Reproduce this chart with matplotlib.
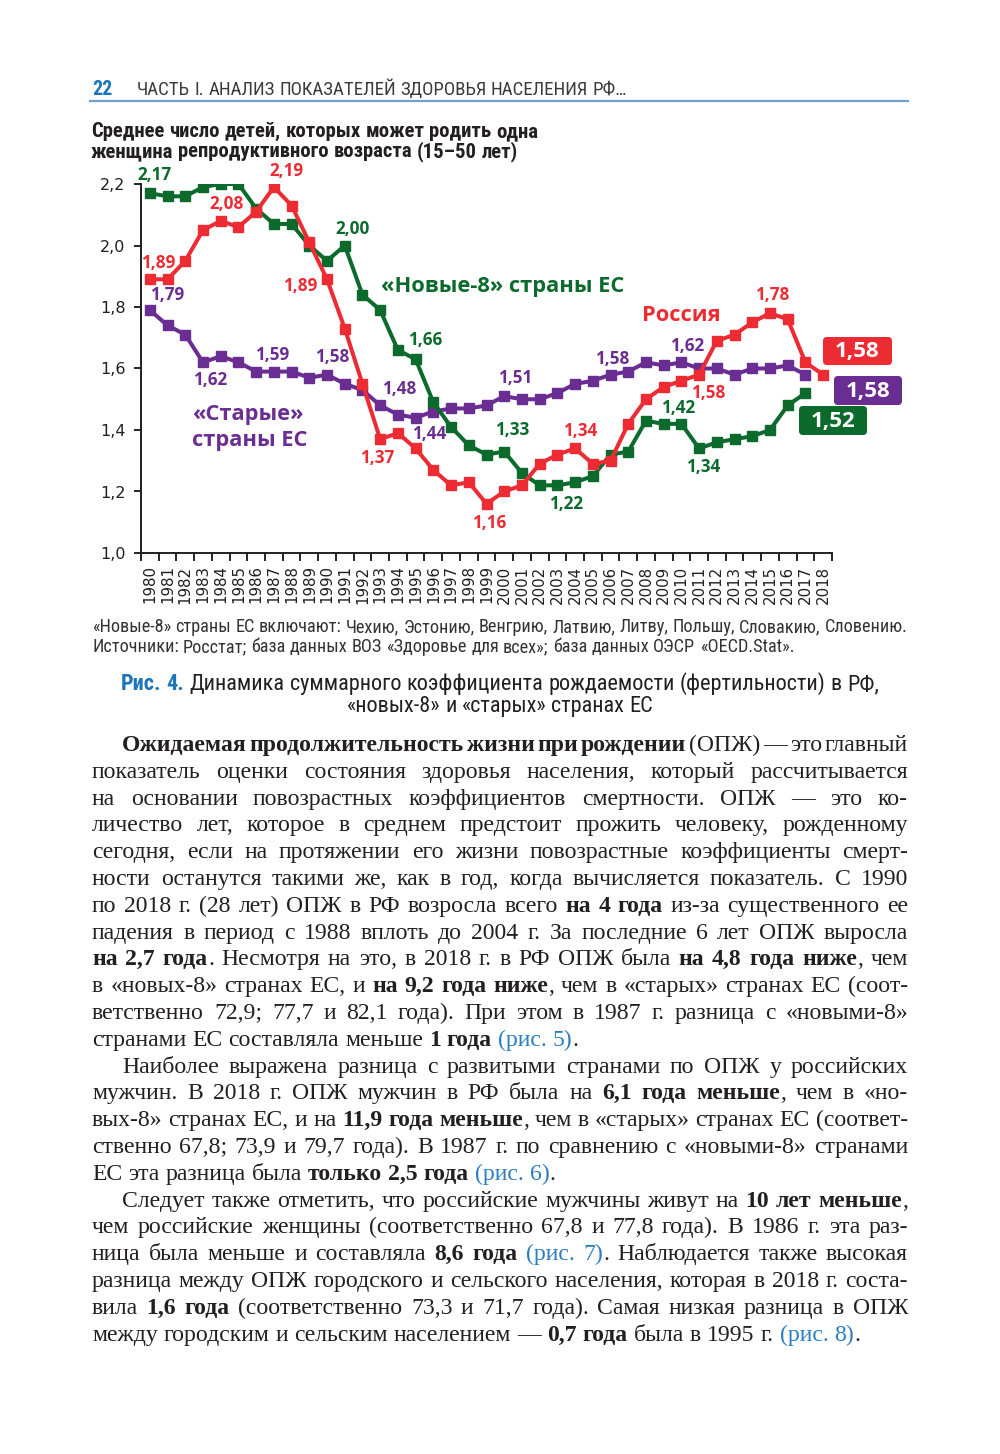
"""Page 22: total fertility rate in Russia, the "new-8" and the "old" EU countries, 1980-2018.

Recreates the book page (chart, notes, caption and body text) as out.png.
"""

import re

import numpy as np
import matplotlib

matplotlib.use("Agg")
import matplotlib.pyplot as plt
from matplotlib import font_manager
from matplotlib.font_manager import FontProperties
from matplotlib.patches import FancyBboxPatch
from matplotlib.ticker import FuncFormatter

# --- data -------------------------------------------------------------------
years = list(range(1980, 2019))
russia = [1.89, 1.89, 1.95, 2.05, 2.08, 2.06, 2.11, 2.19, 2.13, 2.01,
          1.89, 1.73, 1.55, 1.37, 1.39, 1.34, 1.27, 1.22, 1.23, 1.16,
          1.20, 1.22, 1.29, 1.32, 1.34, 1.29, 1.30, 1.42, 1.50, 1.54,
          1.56, 1.58, 1.69, 1.71, 1.75, 1.78, 1.76, 1.62, 1.58]
new8 = [2.17, 2.16, 2.16, 2.19, 2.20, 2.20, 2.12, 2.07, 2.07, 2.00,
        1.95, 2.00, 1.84, 1.79, 1.66, 1.63, 1.49, 1.41, 1.35, 1.32,
        1.33, 1.26, 1.22, 1.22, 1.23, 1.25, 1.32, 1.33, 1.43, 1.42,
        1.42, 1.34, 1.36, 1.37, 1.38, 1.40, 1.48, 1.52, np.nan]
old_eu = [1.79, 1.74, 1.71, 1.62, 1.64, 1.62, 1.59, 1.59, 1.59, 1.57,
          1.58, 1.55, 1.53, 1.48, 1.45, 1.44, 1.46, 1.47, 1.47, 1.48,
          1.51, 1.50, 1.50, 1.52, 1.55, 1.56, 1.58, 1.59, 1.62, 1.61,
          1.62, 1.60, 1.60, 1.58, 1.60, 1.60, 1.61, 1.58, np.nan]

russia_label_years = [1980, 1984, 1987, 1990, 1993, 1999, 2004, 2011, 2015]
new8_label_years = [1980, 1991, 1994, 2000, 2003, 2009, 2011]
old_label_years = [1980, 1983, 1987, 1990, 1993, 1995, 2000, 2006, 2010]
y_ticks = [1.0, 1.2, 1.4, 1.6, 1.8, 2.0, 2.2]

# label offsets from the point, in pixels (right, down)
LABEL_OFFSETS = {
    "russia": {1980: (8, -16), 1984: (6, -17), 1987: (13, -16), 1990: (-27, 7),
               1993: (-3, 19), 1999: (3, 19), 2004: (5, -17), 2011: (9, 18),
               2015: (2, -18)},
    "new8": {1980: (5, -18), 1991: (8, -17), 1994: (27, -10), 2000: (8, -22),
             2003: (9, 19), 2009: (14, -16), 2011: (4, 19)},
    "old": {1980: (17, -15), 1983: (7, 18), 1987: (-2, -17), 1990: (5, -18),
            1993: (19, -16), 1995: (14, 16), 2000: (11, -18), 2006: (2, -16),
            2010: (6, -16)},
}

# --- texts ------------------------------------------------------------------
PAGE_NUM = "22"
RUNNING_HEAD = "ЧАСТЬ I. АНАЛИЗ ПОКАЗАТЕЛЕЙ ЗДОРОВЬЯ НАСЕЛЕНИЯ РФ…"
TITLE_LINES = ["Среднее число детей, которых может родить одна",
               "женщина репродуктивного возраста (15–50 лет)"]
NOTE_LINES = ["«Новые-8» страны ЕС включают: Чехию, Эстонию, Венгрию, Латвию, Литву, Польшу, Словакию, Словению.",
              "Источники: Росстат; база данных ВОЗ «Здоровье для всех»; база данных ОЭСР «OECD.Stat»."]
CAPTION_TAG = "Рис. 4."
CAPTION_LINES = ["Динамика суммарного коэффициента рождаемости (фертильности) в РФ,",
                 "«новых-8» и «старых» странах ЕС"]
BODY = [
    ["**Ожидаемая продолжительность жизни при рождении** (ОПЖ) — это главный",
     "показатель оценки состояния здоровья населения, который рассчитывается",
     "на основании повозрастных коэффициентов смертности. ОПЖ — это ко-",
     "личество лет, которое в среднем предстоит прожить человеку, рожденному",
     "сегодня, если на протяжении его жизни повозрастные коэффициенты смерт-",
     "ности останутся такими же, как в год, когда вычисляется показатель. С 1990",
     "по 2018 г. (28 лет) ОПЖ в РФ возросла всего **на 4 года** из-за существенного ее",
     "падения в период с 1988 вплоть до 2004 г. За последние 6 лет ОПЖ выросла",
     "**на 2,7 года**. Несмотря на это, в 2018 г. в РФ ОПЖ была **на 4,8 года ниже**, чем",
     "в «новых-8» странах ЕС, и **на 9,2 года ниже**, чем в «старых» странах ЕС (соот-",
     "ветственно 72,9; 77,7 и 82,1 года). При этом в 1987 г. разница с «новыми-8»",
     "странами ЕС составляла меньше **1 года** [[(рис. 5)]]."],
    ["Наиболее выражена разница с развитыми странами по ОПЖ у российских",
     "мужчин. В 2018 г. ОПЖ мужчин в РФ была на **6,1 года меньше**, чем в «но-",
     "вых-8» странах ЕС, и на **11,9 года меньше**, чем в «старых» странах ЕС (соответ-",
     "ственно 67,8; 73,9 и 79,7 года). В 1987 г. по сравнению с «новыми-8» странами",
     "ЕС эта разница была **только 2,5 года** [[(рис. 6)]]."],
    ["Следует также отметить, что российские мужчины живут на **10 лет меньше**,",
     "чем российские женщины (соответственно 67,8 и 77,8 года). В 1986 г. эта раз-",
     "ница была меньше и составляла **8,6 года** [[(рис. 7)]]. Наблюдается также высокая",
     "разница между ОПЖ городского и сельского населения, которая в 2018 г. соста-",
     "вила **1,6 года** (соответственно 73,3 и 71,7 года). Самая низкая разница в ОПЖ",
     "между городским и сельским населением — **0,7 года** была в 1995 г. [[(рис. 8)]]."],
]

RED = "#EC2B33"
GREEN = "#0C6A2D"
PURPLE = "#6A2D91"
BLUE = "#1C74BB"
RULE = "#6DA2CF"
INK = "#231F20"


def first_font(*names):
    installed = {f.name for f in font_manager.fontManager.ttflist}
    for name in names:
        if name in installed:
            return name
    return "DejaVu Sans"


NARROW = first_font("Liberation Sans Narrow", "Roboto Condensed", "Open Sans")
SANS = first_font("Open Sans", "Noto Sans", "DejaVu Sans")
SERIF = first_font("Liberation Serif", "DejaVu Serif")


def text_width(r, s, family, weight, size):
    prop = FontProperties(family=family, weight=weight, size=size)
    return r.get_text_width_height_descent(s, prop, ismath=False)[0]


def split_words(line):
    """'**bold** plain [[link]]' -> list of words, each a list of (text, style)."""
    segs = []
    for part in re.split(r"(\*\*.+?\*\*|\[\[.+?\]\])", line):
        if not part:
            continue
        if part.startswith("**"):
            segs.append((part[2:-2], "b"))
        elif part.startswith("[["):
            segs.append((part[2:-2], "l"))
        else:
            segs.append((part, "r"))
    words = [[]]
    for text, st in segs:
        for i, chunk in enumerate(text.split(" ")):
            if i > 0:
                words.append([])
            if chunk:
                words[-1].append((chunk, st))
    return [w for w in words if w]


def word_widths(r, words, styles, size):
    return [sum(text_width(r, t, styles[s][0], styles[s][1], size) for t, s in w)
            for w in words]


def space_width(r, family, size):
    return text_width(r, "n n", family, "normal", size) - text_width(r, "nn", family, "normal", size)


def place_words(page, r, words, x, y, size, styles, width=None):
    widths = word_widths(r, words, styles, size)
    gap = space_width(r, styles["r"][0], size)
    if width is not None and len(words) > 1:
        gap = (width - sum(widths)) / (len(words) - 1)
    for w, ww in zip(words, widths):
        cx = x
        for t, s in w:
            fam, wt, col = styles[s]
            page.text(cx, y, t, family=fam, weight=wt, color=col, fontsize=size,
                      ha="left", va="baseline")
            cx += text_width(r, t, fam, wt, size)
        x += ww + gap
    return sum(widths) + gap * (len(words) - 1)


def fit_size(r, line, styles, width):
    words = split_words(line)
    natural = sum(word_widths(r, words, styles, 10)) + space_width(r, styles["r"][0], 10) * (len(words) - 1)
    return 10 * width / natural


def draw_chart(fig):
    ax = fig.add_axes([141 / 1000, (1454 - 553) / 1454, 691 / 1000, 369 / 1454])
    ax.set_facecolor("none")
    series = [("old", old_eu, PURPLE, old_label_years),
              ("new8", new8, GREEN, new8_label_years),
              ("russia", russia, RED, russia_label_years)]
    for z, (key, values, color, label_years) in enumerate(series):
        ax.plot(years, values, color=color, lw=2.9, marker="s", ms=7.4,
                solid_joinstyle="miter", zorder=3 + z)
        for yr in label_years:
            v = values[years.index(yr)]
            dx, dy = LABEL_OFFSETS[key][yr]
            ax.annotate(f"{v:.2f}".replace(".", ","), (yr, v), xytext=(dx, -dy),
                        textcoords="offset pixels", ha="center", va="center",
                        color=color, family=SANS, weight="bold", fontsize=12.3, zorder=10)

    ax.set_xlim(1979.5, 2018.5)
    ax.set_ylim(1.0, 2.2)
    ax.set_xticks(years)
    ax.set_xticklabels([str(y) for y in years], rotation=90, family="DejaVu Sans",
                       fontsize=10.8, color=INK)
    ax.set_xticks(np.arange(1979.5, 2019, 1.0), minor=True)
    ax.tick_params(axis="x", which="major", length=0, pad=9)
    ax.tick_params(axis="x", which="minor", length=6, width=1.2, direction="out")
    ax.set_yticks(y_ticks)
    ax.yaxis.set_major_formatter(FuncFormatter(lambda v, _: f"{v:.1f}".replace(".", ",")))
    ax.tick_params(axis="y", length=5, width=1.2, pad=6, labelsize=11.5, labelcolor=INK)
    for lab in ax.get_yticklabels():
        lab.set_family("DejaVu Sans")
    for side in ("top", "right"):
        ax.spines[side].set_visible(False)
    for side in ("left", "bottom"):
        ax.spines[side].set_linewidth(1.4)
        ax.spines[side].set_color(INK)
    return ax


def main():
    fig = plt.figure(figsize=(10, 14.54), dpi=100)
    page = fig.add_axes([0, 0, 1, 1])
    page.set_xlim(0, 1000)
    page.set_ylim(1454, 0)
    page.axis("off")
    r = fig.canvas.get_renderer()

    # running head
    head = {"r": (NARROW, "normal", "#3A3A3A"), "b": (NARROW, "bold", BLUE), "l": (NARROW, "normal", BLUE)}
    size = fit_size(r, "**" + PAGE_NUM + "**", head, 20)
    place_words(page, r, split_words("**" + PAGE_NUM + "**"), 92, 95, size, head)
    size = fit_size(r, RUNNING_HEAD, head, 491)
    place_words(page, r, split_words(RUNNING_HEAD), 137, 95, size, head)
    page.plot([90, 908], [100.5, 100.5], color=RULE, lw=1.6)

    # chart title
    bold = {"r": (NARROW, "bold", INK), "b": (NARROW, "bold", INK), "l": (NARROW, "bold", INK)}
    size = fit_size(r, TITLE_LINES[0], bold, 444)
    for i, line in enumerate(TITLE_LINES):
        place_words(page, r, split_words(line), 91, 137 + 20 * i, size, bold)

    draw_chart(fig)

    # series names inside the plot
    big = {"r": (SANS, "bold", GREEN)}
    size = fit_size(r, "«Новые-8» страны ЕС", big, 244)
    page.text(381, 292, "«Новые-8» страны ЕС", color=GREEN, family=SANS, weight="bold",
              fontsize=size, va="baseline")
    page.text(642, 321, "Россия", color=RED, family=SANS, weight="bold",
              fontsize=size, va="baseline")
    page.text(192, 420, "«Старые»", color=PURPLE, family=SANS, weight="bold",
              fontsize=size, va="baseline")
    page.text(192, 446, "страны ЕС", color=PURPLE, family=SANS, weight="bold",
              fontsize=size, va="baseline")

    # end-value boxes
    ends = [(f"{russia[-1]:.2f}", RED, (823, 337, 69, 28)),
            (f"{old_eu[-2]:.2f}", PURPLE, (834, 376, 68, 29)),
            (f"{new8[-2]:.2f}", GREEN, (799, 406, 68, 29))]
    for txt, color, (bx, by, bw, bh) in ends:
        page.add_patch(FancyBboxPatch((bx, by), bw, bh, boxstyle="round,pad=0,rounding_size=4",
                                      fc=color, ec="none"))
        page.text(bx + bw / 2, by + bh / 2 + 1, txt.replace(".", ","), color="white",
                  family=SANS, weight="bold", fontsize=16, ha="center", va="center")

    # notes
    note = {"r": (NARROW, "normal", "#333333"), "b": (NARROW, "bold", "#333333"), "l": (NARROW, "normal", BLUE)}
    size = fit_size(r, NOTE_LINES[0], note, 813)
    for i, line in enumerate(NOTE_LINES):
        place_words(page, r, split_words(line), 92, 632 + 20 * i, size, note)

    # caption
    cap = {"r": (NARROW, "normal", INK), "b": (NARROW, "bold", BLUE), "l": (NARROW, "normal", BLUE)}
    first = "**" + CAPTION_TAG + "** " + CAPTION_LINES[0]
    size = fit_size(r, first, cap, 759)
    w = place_words(page, r, split_words(first), 121, 690, size, cap)
    words = split_words(CAPTION_LINES[1])
    w2 = sum(word_widths(r, words, cap, size)) + space_width(r, NARROW, size) * (len(words) - 1)
    place_words(page, r, words, 121 + w / 2 - w2 / 2, 712, size, cap)

    # body text, justified; font size chosen so the tightest line still fits
    body = {"r": (SERIF, "normal", INK), "b": (SERIF, "bold", INK), "l": (SERIF, "normal", "#2B7CC1")}
    left, right, indent, base, step = 92, 908, 30, 751, 26.8
    base_size = 15.0
    scale = 10.0
    for para in BODY:
        for i, line in enumerate(para[:-1]):
            words = split_words(line)
            avail = right - left - (indent if i == 0 else 0)
            need = sum(word_widths(r, words, body, base_size)) + \
                0.45 * space_width(r, SERIF, base_size) * (len(words) - 1)
            scale = min(scale, avail / need)
    size = base_size * scale
    row = 0
    for para in BODY:
        for i, line in enumerate(para):
            x = left + (indent if i == 0 else 0)
            width = None if i == len(para) - 1 else right - x
            place_words(page, r, split_words(line), x, base + step * row, size, body, width)
            row += 1

    fig.savefig("out.png", dpi=100)


if __name__ == "__main__":
    main()
